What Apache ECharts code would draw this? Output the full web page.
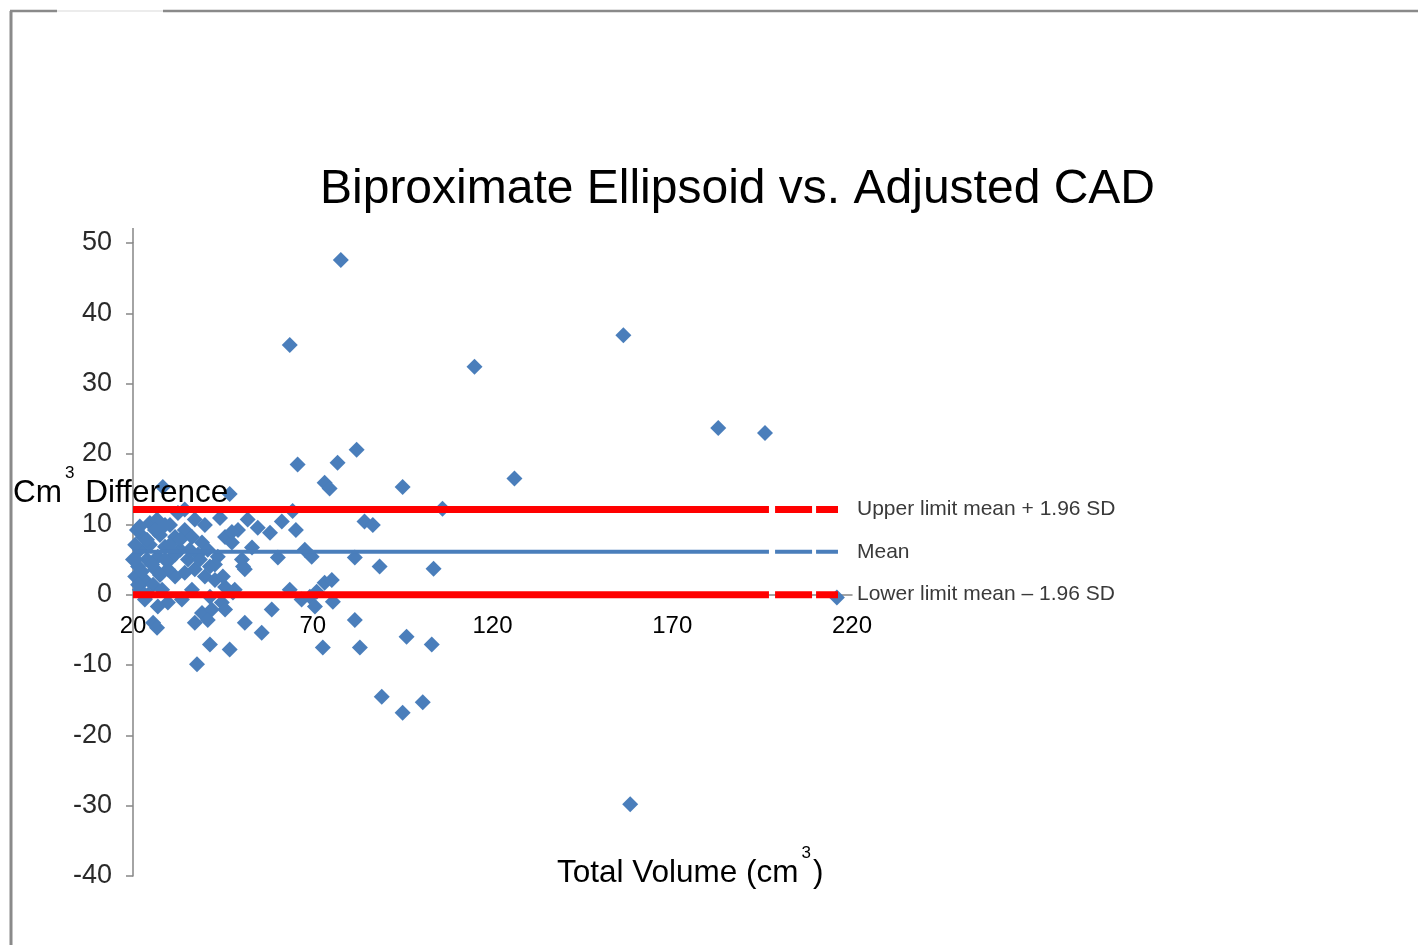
<!DOCTYPE html>
<html>
<head>
<meta charset="utf-8">
<script src="https://cdn.jsdelivr.net/npm/echarts@6/dist/echarts.min.js"></script>
<style>
  html, body { margin: 0; padding: 0; background: #fff; }
  #chart { width: 1418px; height: 945px; }
</style>
</head>
<body>
<div id="chart"></div>
<script>
// ---- data ----
const chartTitle = 'Biproximate Ellipsoid vs. Adjusted CAD';
const xTicks = [20, 70, 120, 170, 220];
const yTicks = [-40, -30, -20, -10, 0, 10, 20, 30, 40, 50];

// Total volume (cm3) of each case
const totalVolume = [
  20.6, 21.4, 21.9, 22.8, 24.7, 26.7, 23.3, 25.6, 26.9, 28.9,
  31.7, 34.4, 36.4, 39.2, 40.8, 43.6, 45.6, 47.5, 49.2, 50.3,
  51.1, 37.2, 34.4, 31.7, 29.7, 40.0, 42.8, 45.6, 48.3, 36.4,
  33.6, 29.7, 26.9, 25.6, 26.7, 37.2, 39.2, 41.9, 44.7, 45.6,
  40.8, 41.4, 46.9, 37.8, 51.1, 55.8, 58.6, 28.3, 46.9, 32.5,
  44.2, 51.9, 54.7, 58.1, 47.5, 53.1, 60.3, 45.0, 47.8, 41.4,
  50.6, 20.6, 21.1, 21.9, 23.9, 24.7, 27.5, 23.3, 20.0, 30.3,
  33.1, 26.1, 35.3, 28.1, 38.1, 42.8, 34.4, 37.2, 40.0, 30.3,
  21.9, 23.9, 20.6, 22.5, 25.3, 27.5, 28.9, 21.4, 24.2, 30.3,
  26.1, 28.9, 33.1, 35.8, 38.6, 41.4, 31.7,
  64.4, 61.4, 65.3, 67.8, 69.7, 81.7, 88.6, 103.6, 84.4, 86.7,
  106.1, 95.0, 63.6, 66.9, 69.2, 71.1, 73.3, 75.3, 75.6, 70.6,
  81.7, 72.8, 83.1, 96.1, 103.1, 89.2, 95.0, 100.6,
  77.8, 63.6, 156.4, 115.0, 182.8, 195.8, 126.1, 82.2, 65.8, 76.9,
  73.3, 74.7, 158.3, 215.8
];
// Difference (cm3) of each case
const cm3Difference = [
  2.6, 4.0, 6.4, 8.2, 10.2, 10.7, 2.1, 1.4, 5.4, 6.8,
  8.2, 9.2, 8.2, 7.4, 6.4, 5.4, 8.2, 7.4, 9.2, 5.0,
  3.6, 3.6, 3.1, 2.6, 3.6, 2.6, 2.1, 1.1, 0.7, 0.7,
  -0.7, -1.1, -1.7, -4.0, -4.7, -4.0, -2.6, -2.1, -1.1, -2.1,
  -3.6, -7.1, -7.8, -9.9, -4.0, -5.4, -2.1, 15.3, 14.3, 11.6,
  10.9, 10.7, 9.5, 8.8, 8.9, 6.7, 5.3, 2.6, 0.3, -0.3,
  4.0, 7.1, 9.2, 0.7, 5.0, 7.1, 8.5, -0.7, 5.0, 5.0,
  6.4, 3.6, 5.0, 0.7, 5.7, 4.3, 12.1, 10.7, 9.9, 9.9,
  9.7, 7.8, 5.0, 3.3, 4.3, 2.8, 5.0, 1.4, 0.0, 7.1,
  9.2, 9.9, 7.8, 6.4, 5.0, 4.0, 5.7,
  11.9, 10.4, 9.2, 6.4, 5.4, 5.3, 4.0, 3.7, 10.4, 9.9,
  12.2, 15.3, 0.7, -0.7, -0.3, 0.4, 1.7, 2.1, -1.0, -1.7,
  -3.6, -7.5, -7.5, -6.0, -7.1, -14.5, -16.8, -15.3,
  47.6, 35.5, 36.9, 32.4, 23.7, 23.0, 16.5, 20.6, 18.5, 18.75,
  15.9, 15.1, -29.8, -0.4
];

// Reference lines (Bland-Altman)
const limitNames  = ['Upper limit mean + 1.96 SD', 'Mean', 'Lower limit mean \u2013 1.96 SD'];
const limitLevels = [12.1, 6.1, 0.0];
const limitColors = ['#ff0000', '#4a7ebb', '#ff0000'];
const limitWidths = [7, 4, 7];
const solidSpan  = [20, 196.9];   // solid part of each line (x range)
const dashedSpan = [198.6, 216.1]; // dashed tail of each line (x range)

// ---- chart ----
const FONT = 'Liberation Sans, Arial, sans-serif';
const points = totalVolume.map((v, i) => [v, cm3Difference[i]]);

const GRID_TOP = 243, GRID_BOTTOM = 69, GRID_LEFT = 133, CHART_H = 945;
const plotH = CHART_H - GRID_TOP - GRID_BOTTOM;
const yMin = yTicks[0], yMax = yTicks[yTicks.length - 1];
// move the x axis (line + labels) up to y = 0
const xAxisOffset = -plotH * (0 - yMin) / (yMax - yMin);

const lineSeries = [];
limitNames.forEach((name, i) => {
  lineSeries.push({
    type: 'line', name: name + ' solid', silent: true, symbol: 'none', z: 5,
    data: [[solidSpan[0], limitLevels[i]], [solidSpan[1], limitLevels[i]]],
    lineStyle: { color: limitColors[i], width: limitWidths[i], cap: 'butt' }
  });
  lineSeries.push({
    type: 'line', name: name, silent: true, symbol: 'none', z: 5,
    data: [[dashedSpan[0], limitLevels[i]], [dashedSpan[1], limitLevels[i]]],
    lineStyle: { color: limitColors[i], width: limitWidths[i], type: [37, 4], cap: 'butt' },
    endLabel: {
      show: true, formatter: name, distance: 19,
      color: '#3a3a3a', fontSize: 21, fontFamily: FONT
    }
  });
});

const nameRich = {
  a: { fontFamily: FONT, fontSize: 31.5, fontWeight: 'normal', lineHeight: 56, color: '#000' },
  s: { fontFamily: FONT, fontSize: 17, fontWeight: 'normal', lineHeight: 14, verticalAlign: 'top', color: '#000', padding: [0, 2, 0, 3] }
};

const chart = echarts.init(document.getElementById('chart'), null, { renderer: 'canvas' });
chart.setOption({
  backgroundColor: '#ffffff',
  animation: false,
  title: [
    {
      text: chartTitle, left: 320, top: 166, padding: 0,
      textStyle: { fontFamily: FONT, fontSize: 48, fontWeight: 'normal', color: '#000' }
    },
    {
      text: '{a|Cm}{s|3}{a| Difference}', left: 13, top: 465, padding: 0,
      textStyle: { fontWeight: 'normal', rich: nameRich }
    },
    {
      text: '{a|Total Volume (cm}{s|3}{a|)}', left: 557, top: 845, padding: 0,
      textStyle: { fontWeight: 'normal', rich: nameRich }
    }
  ],
  grid: { left: GRID_LEFT, right: 566, top: GRID_TOP, bottom: GRID_BOTTOM, containLabel: false },
  xAxis: {
    type: 'value', min: xTicks[0], max: xTicks[xTicks.length - 1], interval: 50,
    offset: xAxisOffset,
    axisLine: { show: true, onZero: false, lineStyle: { color: '#868686', width: 1.5 } },
    axisTick: { show: false },
    splitLine: { show: false },
    axisLabel: { fontFamily: FONT, fontSize: 24, color: '#000', margin: 20 }
  },
  yAxis: {
    type: 'value', min: yMin, max: yMax, interval: 10,
    axisLine: { show: true, lineStyle: { color: '#868686', width: 1.5 } },
    axisTick: { show: true, inside: false, length: 7, lineStyle: { color: '#868686', width: 1.5 } },
    splitLine: { show: false },
    axisLabel: { fontFamily: FONT, fontSize: 27, color: '#2a2a2a', margin: 21 }
  },
  graphic: [
    { type: 'line', shape: { x1: 11, y1: 11, x2: 11, y2: 945 }, style: { stroke: '#8a8a8a', lineWidth: 3 } },
    { type: 'line', shape: { x1: 10, y1: 11, x2: 57, y2: 11 }, style: { stroke: '#8a8a8a', lineWidth: 2.5 } },
    { type: 'line', shape: { x1: 57, y1: 11, x2: 163, y2: 11 }, style: { stroke: '#e6e6e6', lineWidth: 1.5 } },
    { type: 'line', shape: { x1: 163, y1: 11, x2: 1418, y2: 11 }, style: { stroke: '#8a8a8a', lineWidth: 2.5 } },
    // axis line continues a little above the top tick, as in the original
    { type: 'line', shape: { x1: GRID_LEFT, y1: 228, x2: GRID_LEFT, y2: GRID_TOP }, style: { stroke: '#868686', lineWidth: 1.5 } }
  ],
  series: [
    {
      type: 'scatter', name: 'Difference', z: 3,
      symbol: 'diamond', symbolSize: 16,
      itemStyle: { color: '#4a7ebb', opacity: 1 },
      data: points
    }
  ].concat(lineSeries)
});
</script>
</body>
</html>
